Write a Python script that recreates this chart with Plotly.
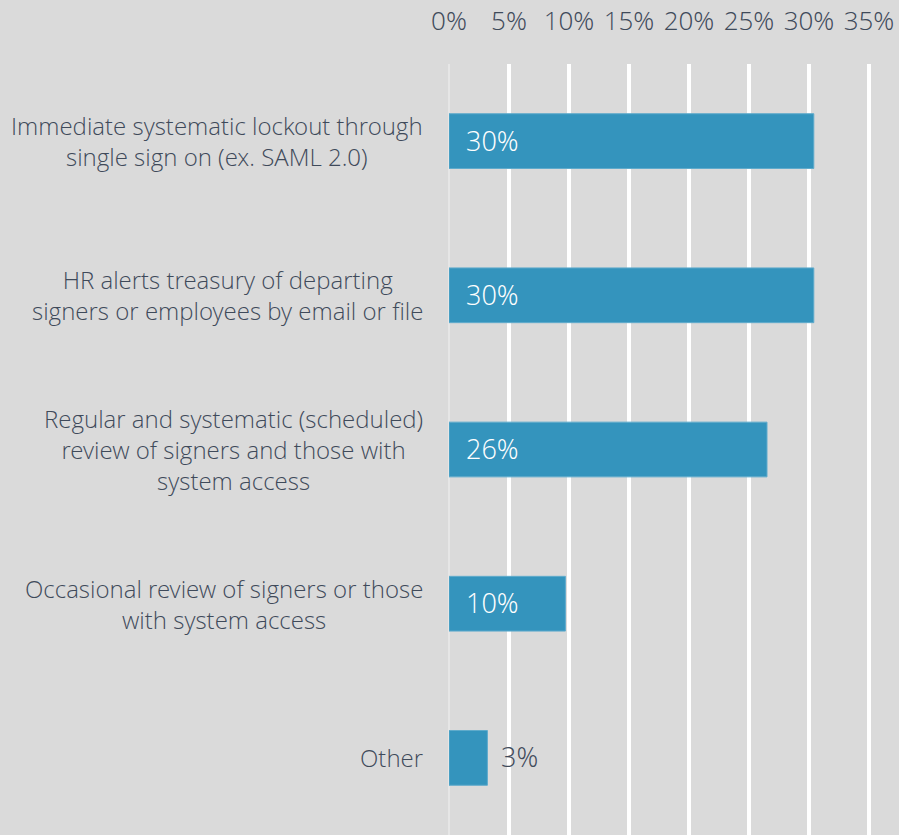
import plotly.graph_objects as go

categories = [
    "Immediate systematic lockout through<br>single sign on (ex. SAML 2.0)",
    "HR alerts treasury of departing<br>signers or employees by email or file",
    "Regular and systematic (scheduled)<br>review of signers and those with<br>system access",
    "Occasional review of signers or those<br>with system access",
    "Other",
]
values = [30.4, 30.4, 26.5, 9.7, 3.2]
value_labels = ["30%", "30%", "26%", "10%", "3%"]
tick_vals = [0, 5, 10, 15, 20, 25, 30, 35]
tick_text = ["0%", "5%", "10%", "15%", "20%", "25%", "30%", "35%"]

BG = "#dadada"
BAR = "#3494bd"
TEXT = "#3f4a5a"
FONT = "Open Sans Light, Open Sans"

fig = go.Figure(
    go.Bar(
        x=values,
        y=categories,
        orientation="h",
        marker={"color": BAR, "line": {"color": "#5fabcc", "width": 1}},
        hoverinfo="skip",
    )
)

annotations = []
for cat in categories:
    annotations.append(dict(
        x=0, xref="paper", y=cat, yref="y",
        text=cat, showarrow=False,
        xanchor="right", xshift=-24, align="center",
        font={"family": FONT, "size": 24, "color": TEXT, "weight": 300},
    ))
for cat, v, lab in zip(categories, values, value_labels):
    inside = v > 6
    annotations.append(dict(
        x=0 if inside else v, y=cat, text=lab, showarrow=False,
        xanchor="left", xshift=15 if inside else 12, yshift=1,
        font={"family": FONT, "size": 27,
              "color": "white" if inside else TEXT, "weight": 300},
    ))

fig.update_layout(
    width=899,
    height=835,
    paper_bgcolor=BG,
    plot_bgcolor=BG,
    margin={"l": 449, "r": 0, "t": 64, "b": 0},
    bargap=0.645,
    showlegend=False,
    annotations=annotations,
    xaxis={
        "side": "top",
        "range": [0, 37.5],
        "tickvals": tick_vals,
        "ticktext": tick_text,
        "tickfont": {"family": FONT, "size": 26, "color": TEXT, "weight": 300},
        "showgrid": True,
        "gridcolor": "white",
        "gridwidth": 4,
        "zeroline": True,
        "zerolinecolor": "#e6e6e6",
        "zerolinewidth": 2,
        "ticklabelstandoff": 28,
        "fixedrange": True,
    },
    yaxis={
        "autorange": "reversed",
        "showticklabels": False,
        "showgrid": False,
        "fixedrange": True,
    },
)

fig.write_html(
    "out.html",
    config={"displayModeBar": False},
    post_script=["document.body.style.margin = '0';"],
)
